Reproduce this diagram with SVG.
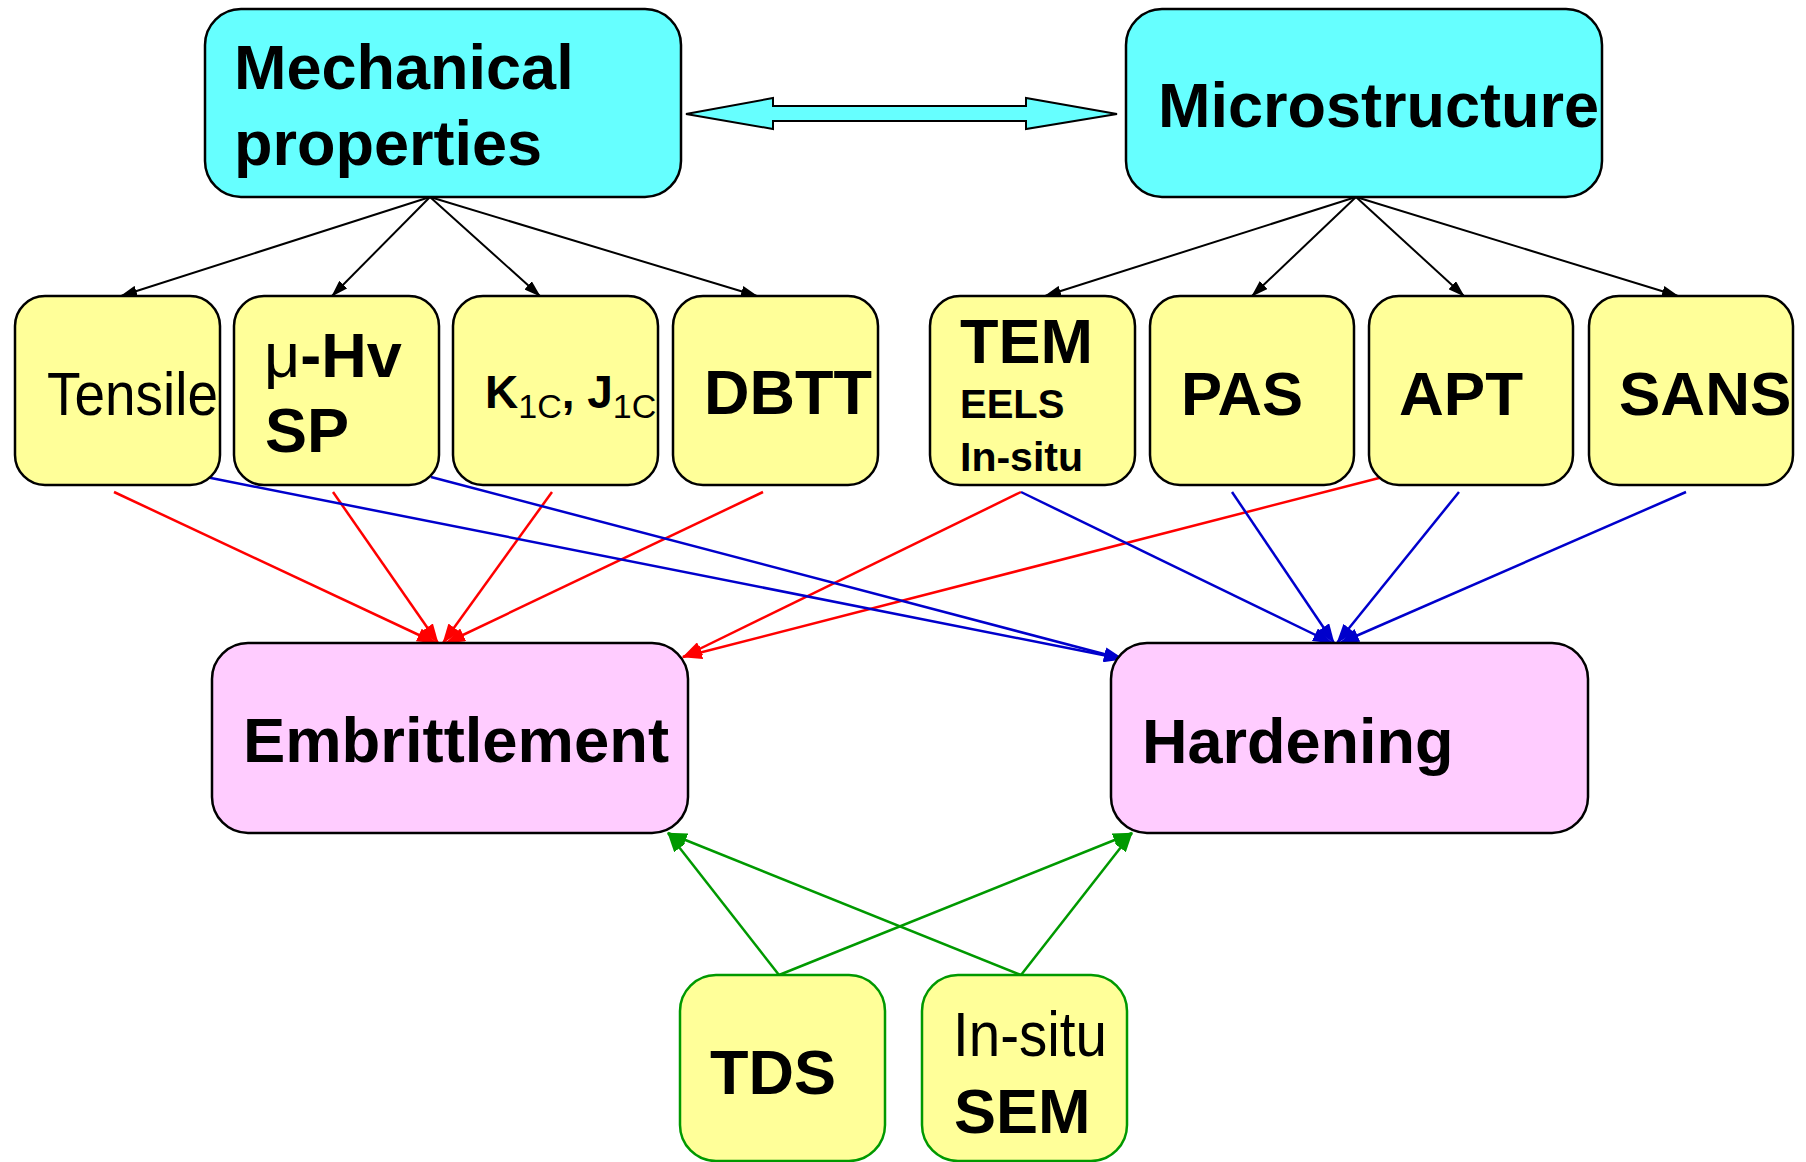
<svg xmlns="http://www.w3.org/2000/svg" width="1806" height="1162" viewBox="0 0 1806 1162">
<style>
.t{font-family:"Liberation Sans",Arial,sans-serif;fill:#000}
.b{font-weight:bold}
.cy{fill:#66FFFF;stroke:#000;stroke-width:2.5}
.ye{fill:#FFFF99;stroke:#000;stroke-width:2.5}
.yg{fill:#FFFF99;stroke:#009900;stroke-width:2.5}
.pk{fill:#FFCCFF;stroke:#000;stroke-width:2.5}
.k{stroke:#000;stroke-width:2;fill:none}
.r{stroke:#FF0000;stroke-width:2.5;fill:none}
.u{stroke:#0000CC;stroke-width:2.5;fill:none}
.g{stroke:#009900;stroke-width:2.5;fill:none}
</style>
<defs>
<marker id="ak" markerUnits="userSpaceOnUse" markerWidth="17" markerHeight="11" refX="16" refY="5.5" orient="auto"><path d="M0,0 L17,5.5 L0,11 z" fill="#000"/></marker>
<marker id="ar" markerUnits="userSpaceOnUse" markerWidth="20" markerHeight="14" refX="19" refY="7" orient="auto"><path d="M0,0 L20,7 L0,14 z" fill="#FF0000"/></marker>
<marker id="au" markerUnits="userSpaceOnUse" markerWidth="20" markerHeight="14" refX="19" refY="7" orient="auto"><path d="M0,0 L20,7 L0,14 z" fill="#0000CC"/></marker>
<marker id="ag" markerUnits="userSpaceOnUse" markerWidth="20" markerHeight="14" refX="19" refY="7" orient="auto"><path d="M0,0 L20,7 L0,14 z" fill="#009900"/></marker>
</defs>
<g id="connectors">
<polygon points="686,114 773,98 773,106 1026,106 1026,98 1117,114 1026,129 1026,121 773,121 773,129" fill="#66FFFF" stroke="#000" stroke-width="2"/>
<g marker-end="url(#ak)" class="k">
<line x1="430" y1="197" x2="121" y2="296"/>
<line x1="430" y1="197" x2="332" y2="296"/>
<line x1="430" y1="197" x2="540" y2="296"/>
<line x1="430" y1="197" x2="757" y2="296"/>
<line x1="1356" y1="197" x2="1045" y2="296"/>
<line x1="1356" y1="197" x2="1252" y2="296"/>
<line x1="1356" y1="197" x2="1464" y2="296"/>
<line x1="1356" y1="197" x2="1678" y2="296"/>
</g>
<g marker-end="url(#ar)" class="r">
<line x1="114" y1="492" x2="436" y2="643"/>
<line x1="333" y1="492" x2="438" y2="643"/>
<line x1="552" y1="492" x2="443" y2="643"/>
<line x1="763" y1="492" x2="446" y2="643"/>
<line x1="1021" y1="492" x2="683" y2="657"/>
<line x1="1383" y1="477" x2="683" y2="657"/>
</g>
<g marker-end="url(#au)" class="u">
<line x1="206" y1="477" x2="1123" y2="659"/>
<line x1="431" y1="477" x2="1123" y2="659"/>
<line x1="1021" y1="492" x2="1332" y2="643"/>
<line x1="1232" y1="492" x2="1334" y2="643"/>
<line x1="1459" y1="492" x2="1337" y2="643"/>
<line x1="1686" y1="492" x2="1340" y2="643"/>
</g>
<g marker-end="url(#ag)" class="g">
<line x1="779" y1="975" x2="668" y2="833"/>
<line x1="779" y1="975" x2="1132" y2="833"/>
<line x1="1021" y1="975" x2="668" y2="833"/>
<line x1="1021" y1="975" x2="1132" y2="833"/>
</g>
</g>
<g id="mech"><rect class="cy" x="205" y="9" width="476" height="188" rx="36"/>
<text class="t b" font-size="63"><tspan x="234" y="89">Mechanical</tspan><tspan x="234" y="165">properties</tspan></text></g>
<g id="micro"><rect class="cy" x="1126" y="9" width="476" height="188" rx="36"/>
<text class="t b" font-size="63" x="1158" y="127">Microstructure</text></g>
<g id="tensile"><rect class="ye" x="15" y="296" width="205" height="189" rx="30"/>
<text class="t" font-size="61" x="47" y="415" textLength="171" lengthAdjust="spacingAndGlyphs">Tensile</text></g>
<g id="muhv"><rect class="ye" x="234" y="296" width="205" height="189" rx="30"/>
<text class="t b" font-size="63"><tspan x="264" y="377"><tspan font-weight="normal">μ</tspan>-Hv</tspan><tspan x="265" y="452">SP</tspan></text></g>
<g id="k1c"><rect class="ye" x="453" y="296" width="205" height="189" rx="30"/>
<text class="t b" font-size="46" x="485" y="408">K<tspan font-size="34" font-weight="normal" dy="10">1C</tspan><tspan dy="-10">, J</tspan><tspan font-size="34" font-weight="normal" dy="10">1C</tspan></text></g>
<g id="dbtt"><rect class="ye" x="673" y="296" width="205" height="189" rx="30"/>
<text class="t b" font-size="63" x="704" y="414">DBTT</text></g>
<g id="tem"><rect class="ye" x="930" y="296" width="205" height="189" rx="30"/>
<text class="t b" font-size="63" x="960" y="363">TEM</text>
<text class="t b" font-size="40" x="960" y="418">EELS</text>
<text class="t b" font-size="41" x="960" y="471">In-situ</text></g>
<g id="pas"><rect class="ye" x="1150" y="296" width="204" height="189" rx="30"/>
<text class="t b" font-size="62" x="1181" y="415" textLength="122" lengthAdjust="spacingAndGlyphs">PAS</text></g>
<g id="apt"><rect class="ye" x="1369" y="296" width="204" height="189" rx="30"/>
<text class="t b" font-size="62" x="1399" y="415">APT</text></g>
<g id="sans"><rect class="ye" x="1589" y="296" width="204" height="189" rx="30"/>
<text class="t b" font-size="62" x="1619" y="415">SANS</text></g>
<g id="embrittlement"><rect class="pk" x="212" y="643" width="476" height="190" rx="36"/>
<text class="t b" font-size="63" x="243" y="762" textLength="426" lengthAdjust="spacingAndGlyphs">Embrittlement</text></g>
<g id="hardening"><rect class="pk" x="1111" y="643" width="477" height="190" rx="36"/>
<text class="t b" font-size="63" x="1142" y="763">Hardening</text></g>
<g id="tds"><rect class="yg" x="680" y="975" width="205" height="186" rx="36"/>
<text class="t b" font-size="63" x="710" y="1094">TDS</text></g>
<g id="insitusem"><rect class="yg" x="922" y="975" width="205" height="186" rx="36"/>
<text class="t" font-size="63" x="953" y="1056" textLength="154" lengthAdjust="spacingAndGlyphs">In-situ</text>
<text class="t b" font-size="63" x="954" y="1133">SEM</text></g>
</svg>
